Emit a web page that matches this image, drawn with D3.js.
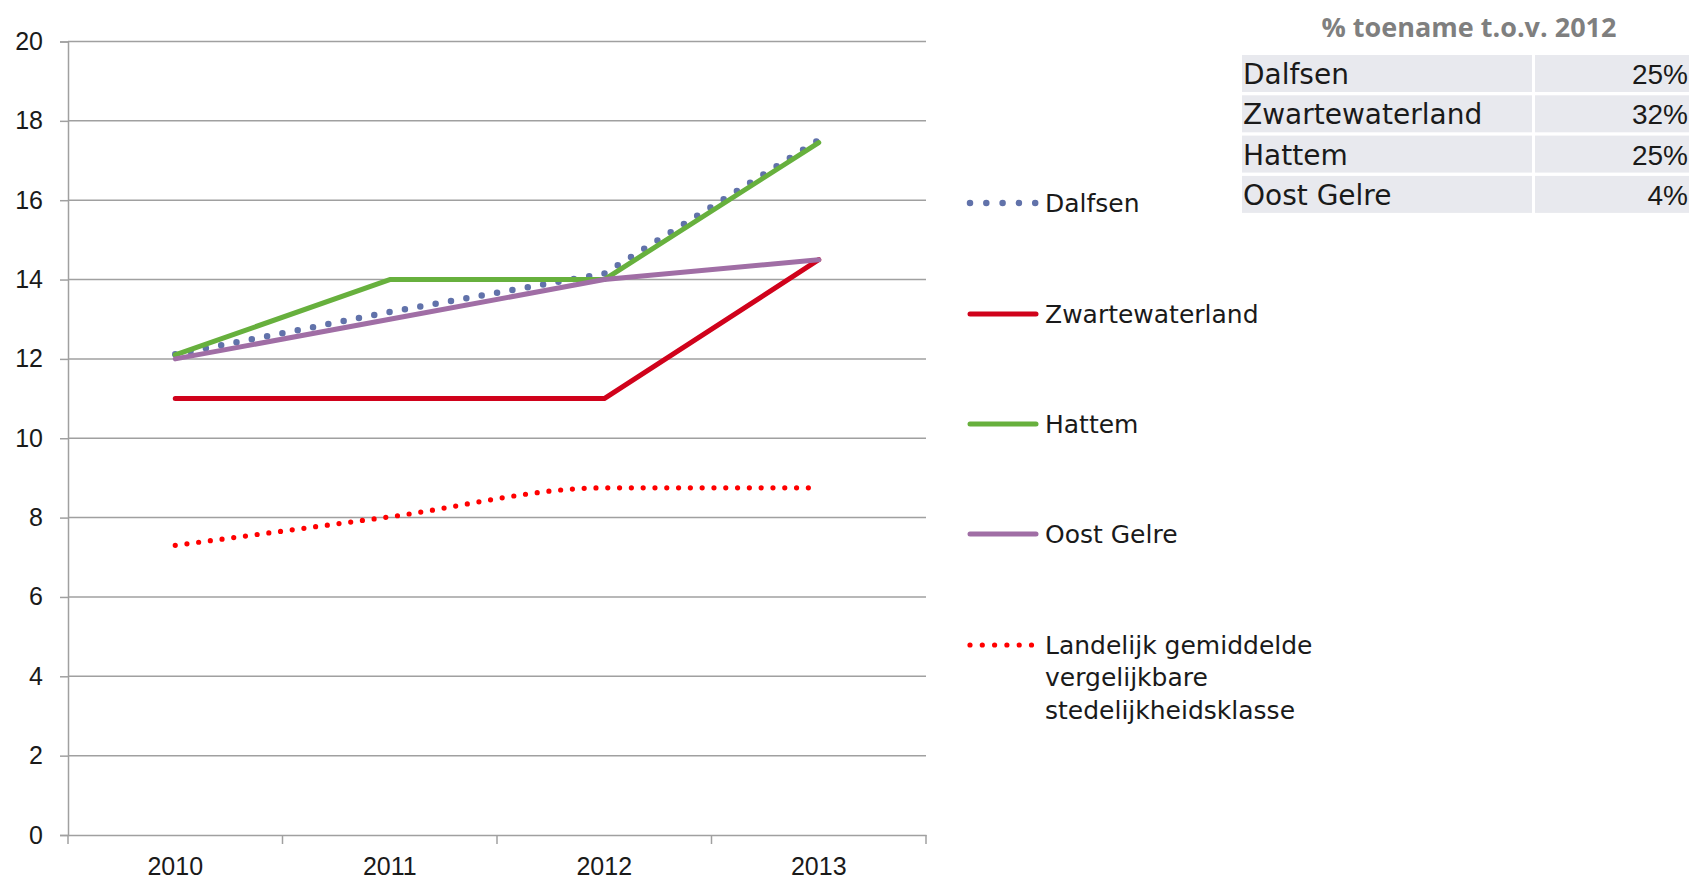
<!DOCTYPE html>
<html><head><meta charset="utf-8">
<script src="https://cdn.jsdelivr.net/npm/d3@7/dist/d3.min.js"></script>
<style>html,body{margin:0;padding:0;background:#fff;}svg{display:block;}</style>
</head><body>
<svg id="c" width="1692" height="882"></svg>
<script>
const years = ["2010", "2011", "2012", "2013"];
const yTicks = [0, 2, 4, 6, 8, 10, 12, 14, 16, 18, 20];
const dalfsen = [12.12, 13.18, 14.15, 17.52];
const zwartewaterland = [11, 11, 11, 14.5];
const hattem = [12.1, 14, 14, 17.45];
const oostGelre = [12, 13, 14, 14.5];
const landelijk = [7.3, 8.02, 8.75, 8.75];
const seriesNames = ["Dalfsen", "Zwartewaterland", "Hattem", "Oost Gelre", "Landelijk gemiddelde vergelijkbare stedelijkheidsklasse"];
const legendLines = [["Dalfsen"], ["Zwartewaterland"], ["Hattem"], ["Oost Gelre"], ["Landelijk gemiddelde", "vergelijkbare", "stedelijkheidsklasse"]];
const tableTitle = "% toename t.o.v. 2012";
const tableNames = ["Dalfsen", "Zwartewaterland", "Hattem", "Oost Gelre"];
const tableValues = ["25%", "32%", "25%", "4%"];

const series = [
  {name: seriesNames[0], values: dalfsen, color: "#6172aa", width: 6.5, dash: "0 15.6", curve: d3.curveLinear, legendDash: "0 16.3"},
  {name: seriesNames[1], values: zwartewaterland, color: "#d0021b", width: 5, dash: null, curve: d3.curveLinear},
  {name: seriesNames[2], values: hattem, color: "#67b03d", width: 5, dash: null, curve: d3.curveLinear},
  {name: seriesNames[3], values: oostGelre, color: "#a06ea5", width: 5, dash: null, curve: d3.curveLinear},
  {name: seriesNames[4], values: landelijk, color: "#ff0000", width: 5.2, dash: "0 11.8", curve: d3.curveMonotoneX, legendDash: "0 12.3"}
];

const svg = d3.select("#c");
const x = d3.scaleBand().domain(years).range([68, 926]).padding(0);
const y = d3.scaleLinear().domain([0, 20]).range([835, 41.5]);
const gridColor = "#a0a0a0";
const numFont = "'Liberation Sans', Arial, sans-serif";
const txtFont = "'DejaVu Sans', sans-serif";

// gridlines
svg.append("g").selectAll("line").data(yTicks.filter(d => d > 0)).join("line")
  .attr("x1", 68).attr("x2", 926)
  .attr("y1", d => y(d)).attr("y2", d => y(d))
  .attr("stroke", gridColor).attr("stroke-width", 1.5);

// y axis
const yAxis = svg.append("g").attr("transform", "translate(68,0)")
  .call(d3.axisLeft(y).tickValues(yTicks).tickSize(8).tickPadding(17).tickFormat(d3.format("d")));
yAxis.select(".domain").attr("stroke", gridColor).attr("stroke-width", 1.5);
yAxis.selectAll(".tick line").attr("stroke", gridColor).attr("stroke-width", 1.5);
yAxis.selectAll(".tick text").attr("font-family", numFont).attr("font-size", 25).attr("fill", "#1a1a1a");

// x axis
const xAxis = svg.append("g").attr("transform", "translate(0,835)")
  .call(d3.axisBottom(x).tickSize(0).tickPadding(22));
xAxis.select(".domain").attr("stroke", gridColor).attr("stroke-width", 1.5);
xAxis.selectAll(".tick text").attr("font-family", numFont).attr("font-size", 25).attr("fill", "#1a1a1a");
// x tick marks at band boundaries
const bounds = years.map(d => x(d)).concat([x(years[years.length - 1]) + x.bandwidth()]);
svg.append("g").selectAll("line").data(bounds).join("line")
  .attr("x1", d => d).attr("x2", d => d).attr("y1", 835).attr("y2", 844)
  .attr("stroke", gridColor).attr("stroke-width", 1.5);

// lines
series.forEach(s => {
  const line = d3.line().x((d, i) => x(years[i]) + x.bandwidth() / 2).y(d => y(d)).curve(s.curve);
  svg.append("path").datum(s.values).attr("d", line)
    .attr("fill", "none").attr("stroke", s.color).attr("stroke-width", s.width)
    .attr("stroke-linecap", "round").attr("stroke-linejoin", "round")
    .attr("stroke-dasharray", s.dash);
});

// legend
const legendY = [203, 314, 424, 534, 645];
series.forEach((s, i) => {
  const g = svg.append("g");
  g.append("line").attr("x1", 970).attr("x2", 1036).attr("y1", legendY[i]).attr("y2", legendY[i])
    .attr("stroke", s.color).attr("stroke-width", s.width).attr("stroke-linecap", "round")
    .attr("stroke-dasharray", s.legendDash || null);
  legendLines[i].forEach((t, j) => {
    g.append("text").attr("x", 1045).attr("y", legendY[i] + j * 32.5)
      .attr("dominant-baseline", "central")
      .attr("font-family", txtFont).attr("font-size", 25).attr("fill", "#1a1a1a").text(t);
  });
});

// table
svg.append("text").attr("x", 1469).attr("y", 26).attr("text-anchor", "middle")
  .attr("dominant-baseline", "central")
  .attr("font-family", "'Open Sans', sans-serif").attr("font-weight", "bold").attr("font-size", 27)
  .attr("fill", "#7f7f7f").text(tableTitle);
const rowTop = 55, rowH = 37, rowGap = 3.3;
tableNames.forEach((n, i) => {
  const top = rowTop + i * (rowH + rowGap);
  svg.append("rect").attr("x", 1242).attr("y", top).attr("width", 290).attr("height", rowH).attr("fill", "#e8e9ee");
  svg.append("rect").attr("x", 1535).attr("y", top).attr("width", 154).attr("height", rowH).attr("fill", "#e8e9ee");
  svg.append("text").attr("x", 1243).attr("y", top + rowH / 2 + 1).attr("dominant-baseline", "central")
    .attr("font-family", txtFont).attr("font-size", 28).attr("fill", "#1a1a1a").text(n);
  svg.append("text").attr("x", 1688).attr("y", top + rowH / 2 + 1).attr("dominant-baseline", "central")
    .attr("text-anchor", "end")
    .attr("font-family", numFont).attr("font-size", 28).attr("fill", "#1a1a1a").text(tableValues[i]);
});
</script>
</body></html>
